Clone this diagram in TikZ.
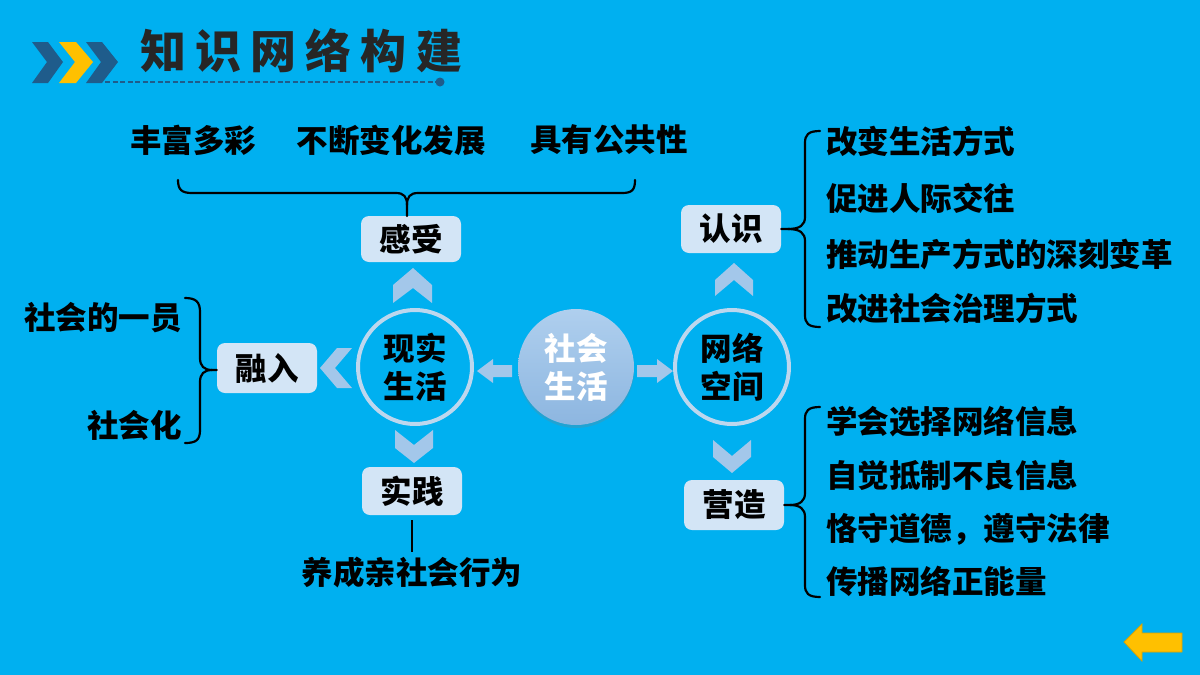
\documentclass[tikz,border=0pt]{standalone}
\usepackage{fontspec}
\setmainfont{Noto Sans CJK SC}
\usetikzlibrary{shadows}
\definecolor{bgc}{HTML}{00B0F0}
\definecolor{darkc}{HTML}{1F5C8B}
\definecolor{yelc}{HTML}{FFC000}
\definecolor{yeld}{HTML}{D9A300}
\definecolor{boxc}{HTML}{D3E5F6}
\definecolor{chevc}{HTML}{A3C7EA}
\definecolor{ringc}{HTML}{BDD7EE}
\definecolor{soctop}{HTML}{AFCFEE}
\definecolor{socbot}{HTML}{8DB6E0}
\definecolor{titc}{HTML}{262626}
\begin{document}
\begin{tikzpicture}[x=1pt,y=-1pt,
  txt/.style={font=\fontsize{31.5}{38}\selectfont\bfseries, inner sep=0pt, text=black},
  boxn/.style={txt, rounded corners=8pt, fill=boxc, minimum width=100pt, minimum height=48pt},
  ring/.style={circle, draw=ringc, line width=4pt, minimum size=114pt, inner sep=0pt, align=center, txt},
  chev/.style={fill=chevc},
  bracel/.style={draw=black, line width=2.2pt, line cap=round},
  item/.style={txt, anchor=west},
  litem/.style={txt, anchor=east},
]
\useasboundingbox (0,0) rectangle (1200,675);
\fill[bgc] (0,0) rectangle (1200,675);

% title decoration
\fill[darkc] (32,42) -- (48,42) -- (63,62) -- (48,83) -- (32,83) -- (47,62) -- cycle;
\fill[yelc] (59,42) -- (76,42) -- (93,62) -- (76,83) -- (59,83) -- (75,62) -- cycle;
\fill[darkc] (86,42) -- (102,42) -- (118,62) -- (102,83) -- (86,83) -- (101,62) -- cycle;
\coordinate (dl) at (105,82);
\coordinate (dr) at (436,82);
\draw[darkc, line width=1.2pt, dash pattern=on 5pt off 2.5pt] (dl) -- (dr);
\fill[darkc] (440,82) circle (4.5);
\node[font=\fontsize{46}{52}\selectfont\bfseries, text=titc, inner sep=0pt] (title) at (301,51)
  {\addfontfeatures{LetterSpace=20}知识网络构建};

% circles
\node[circle, minimum size=116pt, inner sep=0pt, top color=soctop, bottom color=socbot,
  drop shadow={opacity=0.25, shadow xshift=0pt, shadow yshift=-3pt},
  txt, text=white, align=center] (soc) at (576,367) {社会\\生活};
\node[ring] (xs) at (415,367) {现实\\生活};
\node[ring] (wl) at (732,367) {网络\\空间};

% arrows from centre
\fill[chevc] (477,371) -- (493,359) -- (493,365) -- (512,365) -- (512,377) -- (493,377) -- (493,383) -- cycle;
\fill[chevc] (673,371) -- (657,359) -- (657,365) -- (637,365) -- (637,377) -- (657,377) -- (657,383) -- cycle;

% chevrons
\fill[chev] (413,268) -- (432,285) -- (432,303) -- (413,288) -- (393,303) -- (393,285) -- cycle;
\fill[chev] (395,430) -- (414,445) -- (433,430) -- (433,448) -- (414,463) -- (395,448) -- cycle;
\fill[chev] (320,368) -- (337,348) -- (352,348) -- (335,368) -- (352,388) -- (337,388) -- cycle;
\fill[chev] (734,263) -- (753,280) -- (753,296) -- (734,280) -- (715,296) -- (715,280) -- cycle;
\fill[chev] (713,440) -- (732,456) -- (751,440) -- (751,457) -- (732,473) -- (713,457) -- cycle;

% boxes
\node[boxn, minimum height=46pt] (gs) at (411,239) {感受};
\node[boxn] (sj) at (412,491) {实践};
\node[boxn, minimum height=50pt] (rr) at (267,368) {融入};
\node[boxn] (rs) at (731,229) {认识};
\node[boxn, minimum height=50pt] (yz) at (734,505) {营造};

% top items and brace
\node[txt] (t1) at (193,140) {丰富多彩};
\node[txt] (t2) at (391,140) {不断变化发展};
\node[txt] (t3) at (609,140) {具有公共性};
\draw[bracel] (178,180) .. controls (178,190) and (182,193) .. (192,193) -- (396,193)
  .. controls (404,193) and (407,197) .. (407,205) -- (407,216);
\draw[bracel] (407,205) .. controls (407,197) and (410,193) .. (418,193) -- (622,193)
  .. controls (632,193) and (635,190) .. (635,180);

% left items and brace
\node[litem] (l1) at (182,318) {社会的一员};
\node[litem] (l2) at (182,425) {社会化};
\draw[bracel] (185,298) .. controls (196,298) and (200,302) .. (200,312) -- (200,358)
  .. controls (200,366) and (204,370) .. (212,370) -- (rr.west |- 0,370);
\draw[bracel] (212,370) .. controls (204,370) and (200,374) .. (200,382) -- (200,430)
  .. controls (200,440) and (196,443) .. (185,443);

% bottom item
\node[txt] (b1) at (412,572) {养成亲社会行为};
\draw[line width=2.2pt] (sj.south |- 0,520) -- (sj.south |- 0,552);

% right upper items
\node[item] (r1) at (826,141) {改变生活方式};
\node[item] (r2) at (826,198) {促进人际交往};
\node[item] (r3) at (826,254) {推动生产方式的深刻变革};
\node[item] (r4) at (826,308) {改进社会治理方式};
\draw[bracel] (rs.east) -- (788,229) .. controls (800,229) and (805,225) .. (805,217) -- (805,143)
  .. controls (805,135) and (808,131) .. (820,131);
\draw[bracel] (788,229) .. controls (800,229) and (805,233) .. (805,241) -- (805,315)
  .. controls (805,323) and (808,327) .. (820,327);

% right lower items
\node[item] (s1) at (826,422) {学会选择网络信息};
\node[item] (s2) at (826,476) {自觉抵制不良信息};
\node[item] (s3) at (826,529) {恪守道德，遵守法律};
\node[item] (s4) at (826,581) {传播网络正能量};
\draw[bracel] (yz.east) -- (790,505) .. controls (800,505) and (805,501) .. (805,493) -- (805,419)
  .. controls (805,411) and (808,407) .. (820,407);
\draw[bracel] (790,505) .. controls (800,505) and (805,509) .. (805,517) -- (805,585)
  .. controls (805,593) and (808,597) .. (820,597);

% back arrow
\filldraw[fill=yelc, draw=yeld, line width=0.8pt] (1124,642) -- (1142,624) -- (1142,633) -- (1182,633)
  -- (1182,652) -- (1142,652) -- (1142,661) -- cycle;
\end{tikzpicture}
\end{document}
